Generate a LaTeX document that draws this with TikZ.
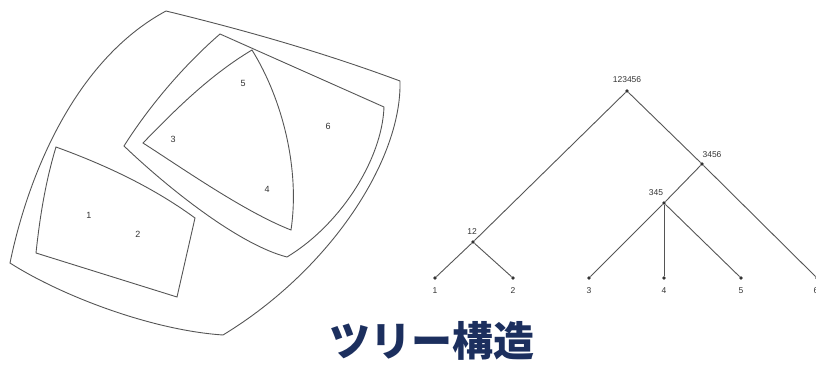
\documentclass[tikz,border=0pt]{standalone}
\usepackage{fontspec}
\setmainfont{Liberation Sans}
\newfontfamily\cjk{Noto Sans CJK JP}
\definecolor{linegray}{HTML}{555555}
\definecolor{titleblue}{HTML}{1C2F5E}
\begin{document}
\begin{tikzpicture}[x=1pt,y=-1pt,
  region/.style={draw=linegray,line width=0.9pt},
  lbl/.style={font=\fontsize{9}{10}\selectfont,text=black!80,inner sep=0pt},
  tlbl/.style={font=\fontsize{8.5}{9}\selectfont,text=black!80,inner sep=0pt},
  dot/.style={circle,fill=black!80,inner sep=0pt,minimum size=3.6pt},
  edge/.style={draw=linegray,line width=0.9pt}]
\useasboundingbox (0,0) rectangle (816,369);
% outer region
\draw[region] (166,11) .. controls (244,30) and (322,52) .. (400,81)
  .. controls (402,160) and (330,270) .. (223,335)
  .. controls (150,330) and (60,295) .. (10,263)
  .. controls (28,175) and (75,60) .. (166,11) -- cycle;
% region 12
\draw[region] (56,147) .. controls (100,163) and (150,185) .. (195,218)
  -- (177,297) -- (36,253)
  .. controls (40,215) and (46,180) .. (56,147) -- cycle;
% region 3456
\draw[region] (220,34) -- (384,107)
  .. controls (382,160) and (340,225) .. (287,257)
  .. controls (240,245) and (170,190) .. (124,146)
  .. controls (148,108) and (182,67) .. (220,34) -- cycle;
% region 345
\draw[region] (252,50) .. controls (283,100) and (300,170) .. (291,230)
  .. controls (245,212) and (185,170) .. (143,143)
  .. controls (175,110) and (210,75) .. (252,50) -- cycle;
% region labels
\node[lbl] (r1) at (89,215) {1};
\node[lbl] (r2) at (138,234) {2};
\node[lbl] (r3) at (173,139) {3};
\node[lbl] (r4) at (267,189) {4};
\node[lbl] (r5) at (243,83) {5};
\node[lbl] (r6) at (328,126) {6};
% tree
\node[dot] (t0) at (627,91) {};
\node[dot] (t3456) at (702,164) {};
\node[dot] (t345) at (664,203) {};
\node[dot] (t12) at (473,242) {};
\node[dot] (l1) at (435,278) {};
\node[dot] (l2) at (513,278) {};
\node[dot] (l3) at (589,278) {};
\node[dot] (l4) at (664,278) {};
\node[dot] (l5) at (741,278) {};
\node[dot] (l6) at (817,278) {};
\draw[edge] (t0) -- (t12);
\draw[edge] (t0) -- (t3456);
\draw[edge] (t12) -- (l1);
\draw[edge] (t12) -- (l2);
\draw[edge] (t3456) -- (t345);
\draw[edge] (t3456) -- (l6);
\draw[edge] (t345) -- (l3);
\draw[edge] (t345) -- (l4);
\draw[edge] (t345) -- (l5);
\node[tlbl] (n0) at (627,80) {123456};
\node[tlbl] (n3456) at (712,155) {3456};
\node[tlbl] (n345) at (656,193) {345};
\node[tlbl] (n12) at (472,232) {12};
\node[tlbl] (m1) at (435,291) {1};
\node[tlbl] (m2) at (513,291) {2};
\node[tlbl] (m3) at (589,291) {3};
\node[tlbl] (m4) at (664,291) {4};
\node[tlbl] (m5) at (741,291) {5};
\node[tlbl] (m6) at (816,291) {6};
% title
\node[font=\cjk\bfseries\fontsize{41}{43}\selectfont,text=titleblue,inner sep=0pt] (title) at (432,341) {ツリー構造};
\end{tikzpicture}
\end{document}
